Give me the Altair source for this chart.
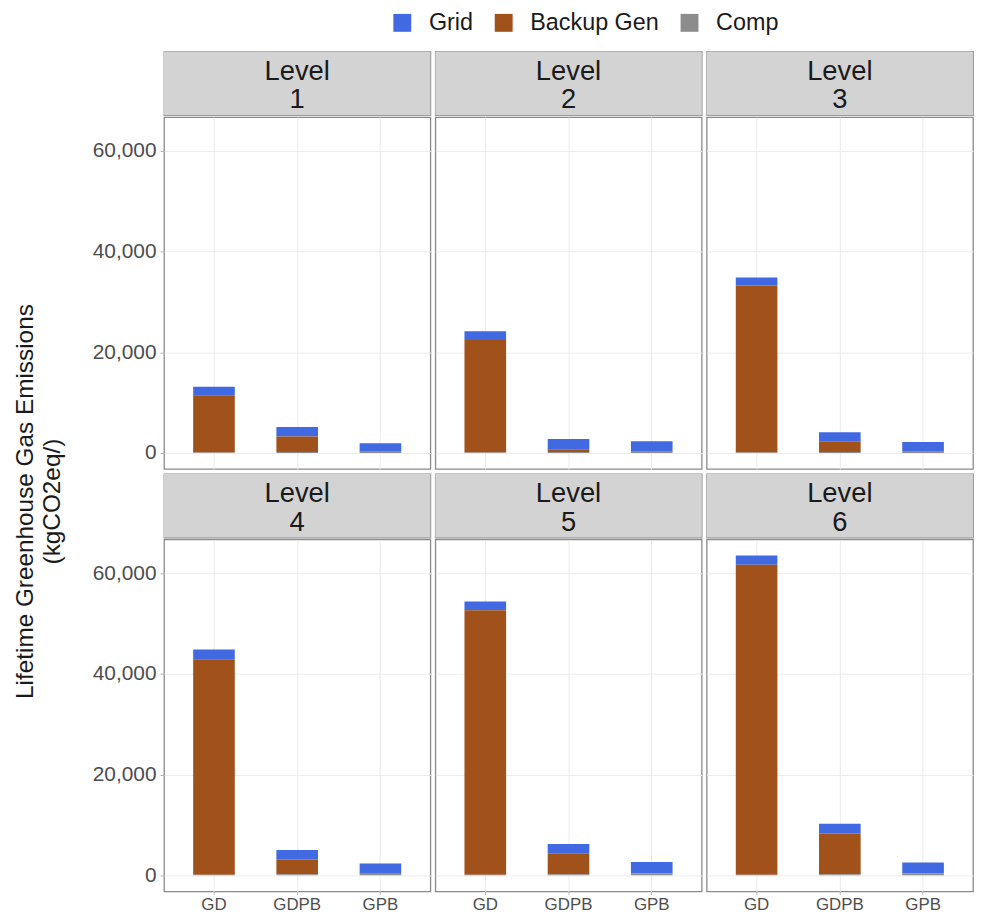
import altair as alt
import pandas as pd

# ---- data ----
levels = ["1", "2", "3", "4", "5", "6"]
categories = ["GD", "GDPB", "GPB"]
series = ["Grid", "Backup Gen", "Comp"]

# values per level, in category order GD, GDPB, GPB
grid_vals = {
    "1": [1700, 1880, 1700],
    "2": [1770, 2020, 2100],
    "3": [1570, 1880, 1910],
    "4": [1900, 1900, 2050],
    "5": [1690, 1910, 2280],
    "6": [1830, 1960, 2150],
}
backup_vals = {
    "1": [11350, 3060, 0],
    "2": [22330, 530, 0],
    "3": [33170, 2040, 0],
    "4": [42840, 2940, 0],
    "5": [52580, 4110, 0],
    "6": [61600, 8110, 0],
}
comp_vals = {
    "1": [100, 200, 250],
    "2": [100, 200, 250],
    "3": [100, 200, 250],
    "4": [100, 200, 300],
    "5": [100, 200, 350],
    "6": [100, 200, 400],
}
colors = ["#4169E1", "#A0521A", "#8C8C8C"]
y_ticks = [0, 20000, 40000, 60000]

rows = []
for lv in levels:
    for i, c in enumerate(categories):
        rows.append({"level": lv, "cat": c, "series": "Grid", "value": grid_vals[lv][i], "ord": 2})
        rows.append({"level": lv, "cat": c, "series": "Backup Gen", "value": backup_vals[lv][i], "ord": 1})
        rows.append({"level": lv, "cat": c, "series": "Comp", "value": comp_vals[lv][i], "ord": 0})
df = pd.DataFrame(rows)

W = 268
PH = 354
SH = 64
FONT = "Liberation Sans"
ydom = [-3176, 66706]


def panel(lv, first_col, bottom_row):
    d = df[df.level == lv]
    strip_df = pd.DataFrame({"label": [f"Level\n{lv}"]})
    strip = alt.layer(
        alt.Chart(strip_df).mark_rect(color="#D3D3D3").encode(
            x=alt.value(0), x2=alt.value(W), y=alt.value(0), y2=alt.value(SH)
        ),
        alt.Chart(strip_df).mark_text(
            fontSize=27.5, font=FONT, color="#1a1a1a", lineBreak="\n", lineHeight=28.5,
            baseline="alphabetic", align="center"
        ).encode(x=alt.value(W / 2), y=alt.value(28.5), text="label:N"),
    ).properties(width=W, height=SH)

    yaxis = alt.Axis(
        values=y_ticks, format=",.0f", title=None, grid=True, gridColor="#EBEBEB",
        labels=first_col, ticks=first_col, domain=False, labelFontSize=21,
        labelColor="#4d4d4d", tickColor="#b3b3b3", tickSize=4, labelPadding=4,
        labelFont=FONT,
    )
    xaxis = alt.Axis(
        title=None, grid=True, gridColor="#EBEBEB", labels=bottom_row, ticks=bottom_row,
        domain=False, labelFontSize=17, labelColor="#4d4d4d", tickColor="#b3b3b3",
        tickSize=3, labelPadding=2, labelAngle=0, bandPosition=0.5, labelFont=FONT,
    )
    bars = alt.Chart(d).mark_bar().encode(
        x=alt.X("cat:N", sort=categories, axis=xaxis,
                scale=alt.Scale(paddingInner=0.5, paddingOuter=0.35)),
        y=alt.Y("value:Q", stack="zero", axis=yaxis,
                scale=alt.Scale(domain=ydom, nice=False, zero=False)),
        color=alt.Color(
            "series:N",
            scale=alt.Scale(domain=series, range=colors),
            legend=alt.Legend(
                title=None, orient="none", legendX=228, legendY=-41, padding=0,
                direction="horizontal", symbolType="square",
                symbolSize=324, symbolStrokeWidth=0, labelFontSize=23.5, labelFont=FONT,
                labelColor="#1a1a1a", columnPadding=19, labelOffset=15,
            ),
        ),
        order=alt.Order("ord:Q", sort="ascending"),
    ).properties(width=W, height=PH)
    return alt.vconcat(strip, bars, spacing=0)


row1 = alt.hconcat(*[panel(lv, i == 0, False) for i, lv in enumerate(levels[:3])], spacing=3)
row2 = alt.hconcat(*[panel(lv, i == 0, True) for i, lv in enumerate(levels[3:])], spacing=3)

chart = alt.vconcat(row1, row2, spacing=3).properties(
    title=alt.TitleParams(
        text=["Lifetime Greenhouse Gas Emissions", "(kgCO2eq/)"],
        orient="left", anchor="middle", fontSize=24.5, font=FONT, fontWeight="normal",
        color="#1a1a1a", lineHeight=27, offset=26, dx=-40,
    ),
    padding={"left": 5, "top": 0, "right": 0, "bottom": 0},
).configure_view(
    stroke="#8a8a8a", strokeWidth=1.3
)

chart.save("out.html", embed_options={"renderer": "svg", "actions": False})
